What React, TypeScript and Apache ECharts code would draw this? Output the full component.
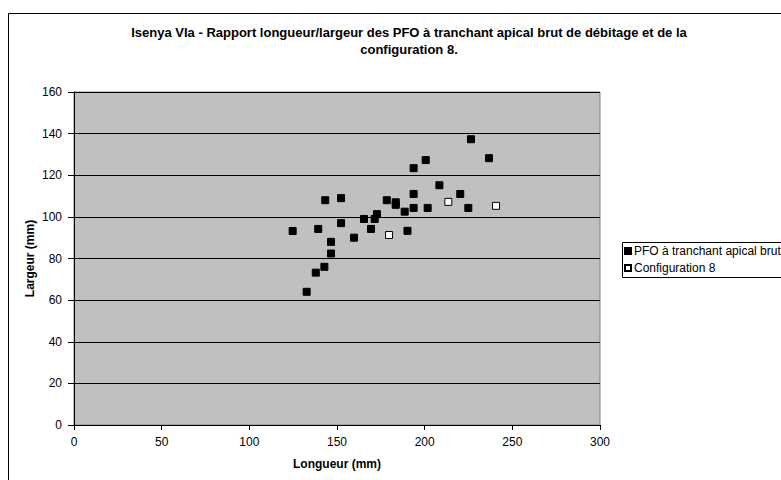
import React, { useEffect, useRef } from "react";
import * as echarts from "echarts";

const titleLines = [
  "Isenya VIa - Rapport longueur/largeur des PFO à tranchant apical brut de débitage et de la",
  "configuration 8.",
];
const xAxisTitle = "Longueur (mm)";
const yAxisTitle = "Largeur (mm)";
const seriesNames = ["PFO à tranchant apical brut de débitage", "Configuration 8"];

const pfoLongueur = [
  124.7, 132.7, 137.9, 139.3, 142.8, 143.3, 146.6, 146.6, 152.3, 152.3,
  159.7, 165.4, 169.4, 171.5, 172.8, 178.4, 183.5, 183.5, 188.6, 190.2,
  193.7, 193.7, 193.7, 200.6, 201.7, 208.4, 220.3, 224.9, 226.4, 236.7,
];
const pfoLargeur = [
  93.2, 64, 73.2, 94.2, 76, 108, 88, 82.4, 109, 97,
  90, 99, 94.2, 99, 101.3, 108, 107, 105.8, 102.5, 93.3,
  123.4, 111, 104.3, 127.3, 104.3, 115.2, 111, 104.3, 137.3, 128.2,
];
const configLongueur = [179.7, 213.5, 240.7];
const configLargeur = [91.3, 107.2, 105.3];

export default function App() {
  const ref = useRef<HTMLDivElement>(null);
  useEffect(() => {
    if (!ref.current) return;
    const chart = echarts.init(ref.current, undefined, { renderer: "svg" });
    const font = "Arial, 'Liberation Sans', sans-serif";
    chart.setOption({
      animation: false,
      backgroundColor: "#ffffff",
      textStyle: { fontFamily: font },
      title: {
        text: titleLines.join("\n"),
        left: 404,
        top: 19,
        textAlign: "center",
        textStyle: { fontSize: 13, fontWeight: "bold", color: "#000", lineHeight: 17, fontFamily: font },
      },
      graphic: [
        {
          type: "rect",
          shape: { x: 8.5, y: 13.5, width: 800, height: 500 },
          style: { fill: "none", stroke: "#000", lineWidth: 1 },
          silent: true,
          z: -1,
        },
        {
          type: "rect",
          shape: { x: 622.5, y: 242.5, width: 200, height: 35 },
          style: { fill: "#fff", stroke: "#000", lineWidth: 1 },
          silent: true,
          z: 1,
        },
      ],
      legend: {
        orient: "vertical",
        left: 619,
        top: 240,
        itemWidth: 6,
        itemHeight: 6,
        itemGap: 5,
        icon: "rect",
        z: 5,
        textStyle: { fontSize: 12, lineHeight: 12, color: "#000", fontFamily: font, padding: [0, 0, 0, -2] },
        data: seriesNames,
      },
      grid: {
        left: 74,
        top: 92,
        width: 526,
        height: 333,
        show: true,
        backgroundColor: "#c0c0c0",
        borderColor: "#808080",
        borderWidth: 1,
      },
      xAxis: {
        type: "value",
        min: 0,
        max: 300,
        interval: 50,
        name: xAxisTitle,
        nameLocation: "middle",
        nameGap: 33,
        nameMoveOverlap: false,
        nameTextStyle: { fontSize: 12, fontWeight: "bold", color: "#000", fontFamily: font },
        axisLine: { show: true, lineStyle: { color: "#000", width: 1 } },
        axisTick: { show: true, inside: false, length: 5, lineStyle: { color: "#000" } },
        axisLabel: { fontSize: 12, color: "#000", margin: 11, fontFamily: font },
        splitLine: { show: false },
      },
      yAxis: {
        type: "value",
        min: 0,
        max: 160,
        interval: 20,
        name: yAxisTitle,
        nameLocation: "middle",
        nameGap: 38,
        nameMoveOverlap: false,
        nameTextStyle: { fontSize: 12, fontWeight: "bold", color: "#000", fontFamily: font },
        axisLine: { show: true, lineStyle: { color: "#000", width: 1 } },
        axisTick: { show: true, inside: false, length: 6, lineStyle: { color: "#000" } },
        axisLabel: { fontSize: 12, color: "#000", margin: 12, fontFamily: font },
        splitLine: { show: true, lineStyle: { color: "#000", width: 1 } },
      },
      series: [
        {
          name: seriesNames[0],
          type: "scatter",
          symbol: "rect",
          symbolSize: 7,
          itemStyle: { color: "#000", borderColor: "#000", borderWidth: 1, opacity: 1 },
          data: pfoLongueur.map((x, i) => [x, pfoLargeur[i]]),
        },
        {
          name: seriesNames[1],
          type: "scatter",
          symbol: "rect",
          symbolSize: 7,
          itemStyle: { color: "#fff", borderColor: "#000", borderWidth: 1, opacity: 1 },
          data: configLongueur.map((x, i) => [x, configLargeur[i]]),
        },
      ],
    });
    return () => chart.dispose();
  }, []);
  return (
    <div
      ref={ref}
      style={{ position: "absolute", left: 0, top: 0, width: 781, height: 480 }}
    />
  );
}
